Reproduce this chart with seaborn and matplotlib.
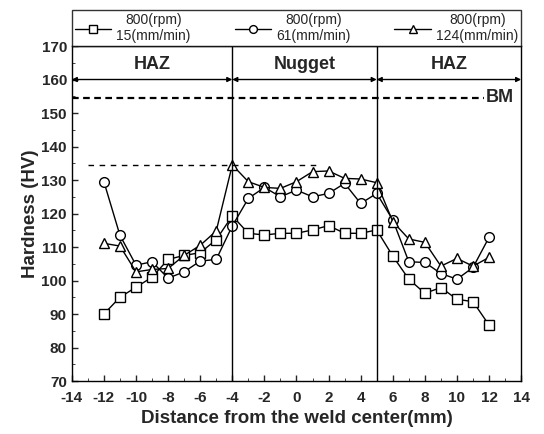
import numpy as np
import pandas as pd
import matplotlib
matplotlib.use('Agg')
import matplotlib.pyplot as plt
import seaborn as sns

# hardness profile across the weld
dist = [-12, -11, -10, -9, -8, -7, -6, -5, -4, -3, -2, -1, 0, 1, 2, 3, 4,
        5, 6, 7, 8, 9, 10, 11, 12]
hv_15 = [90, 95, 98, 101, 106.3, 107.5, 108.3, 112.2, 119.3,
         114.1, 113.6, 114.1, 114.1, 115.1, 116.4, 114.1, 114.1,
         115.1, 107.3, 100.4, 96.2, 97.9, 94.4, 93.7, 86.7]
hv_61 = [129.5, 113.5, 104.6, 105.6, 100.7, 102.6, 105.8, 106.3, 116.3,
         124.5, 127.8, 125.0, 127.0, 125.0, 126.0, 129.0, 123.0,
         126.0, 118.1, 105.6, 105.4, 102.1, 100.4, 103.9, 112.9]
hv_124 = [111.1, 110.3, 102.6, 103.3, 103.6, 107.5, 110.5, 114.8, 134.5,
          129.5, 127.8, 127.5, 129.5, 132.5, 132.7, 130.5, 130.3,
          129.2, 117.6, 112.4, 111.4, 104.3, 106.6, 104.3, 106.9]

labels = ['800(rpm)\n15(mm/min)', '800(rpm)\n61(mm/min)', '800(rpm)\n124(mm/min)']
markers = ['s', 'o', '^']

zone_edges = [-14, -4, 5, 14]
zone_names = ['HAZ', 'Nugget', 'HAZ']
bm_hv = 154.5
peak_hv = 134.5

sns.set_style('ticks')
plt.rcParams['font.family'] = ['Liberation Sans', 'DejaVu Sans']
plt.rcParams['axes.unicode_minus'] = False

fig = plt.figure(figsize=(5.44, 4.34), dpi=100)
ax = fig.add_axes([0.132, 0.122, 0.826, 0.772])

for hv, lab, m in zip([hv_15, hv_61, hv_124], labels, markers):
    sns.lineplot(x=dist, y=hv, ax=ax, color='black', lw=1, marker=m, ms=7,
                 markerfacecolor='white', markeredgecolor='black', mew=1,
                 label=lab)

# zone boundaries
for xv in zone_edges[1:-1]:
    ax.axvline(xv, color='black', lw=1)

# zone arrows and names
for i in range(3):
    ax.annotate('', xy=(zone_edges[i], 160), xytext=(zone_edges[i + 1], 160),
                arrowprops=dict(arrowstyle='<|-|>', color='black', lw=1,
                                mutation_scale=7, shrinkA=0, shrinkB=0))
    ax.text((zone_edges[i] + zone_edges[i + 1]) / 2, 164.5, zone_names[i],
            ha='center', va='center', fontsize=13, fontweight='bold')

# base metal level and peak level
ax.plot([-14, 11.7], [bm_hv, bm_hv], color='black', lw=1.6, ls=(0, (3, 2)))
ax.text(11.8, bm_hv, 'BM', ha='left', va='center', fontsize=13, fontweight='bold')
ax.plot([-13, 1.5], [peak_hv, peak_hv], color='black', lw=1, ls=(0, (4, 4)))

ax.set_xlim(-14, 14)
ax.set_ylim(70, 170)
ax.set_xticks(np.arange(-14, 15, 2))
ax.set_xticks(np.arange(-14, 15, 1), minor=True)
ax.set_yticks(np.arange(70, 171, 10))
ax.set_yticks(np.arange(70, 171, 5), minor=True)
ax.tick_params(direction='in', length=4, width=1, labelsize=11)
ax.tick_params(axis='x', pad=7)
ax.tick_params(which='minor', direction='in', length=2)
for t in ax.get_xticklabels() + ax.get_yticklabels():
    t.set_fontweight('bold')
for s in ax.spines.values():
    s.set_visible(True)
    s.set_linewidth(1)
    s.set_color('black')

ax.set_xlabel('Distance from the weld center(mm)', fontsize=13.5, fontweight='bold')
ax.set_ylabel('Hardness (HV)', fontsize=13.5, fontweight='bold', labelpad=2)

leg = ax.legend(loc='lower left', bbox_to_anchor=(0, 1, 1, 0.13), mode='expand',
                ncol=3, borderaxespad=0, fontsize=10, handlelength=2.6,
                handletextpad=0.4, columnspacing=0.5, frameon=True,
                fancybox=False, edgecolor='black', labelspacing=0.2,
                borderpad=0.2, markerscale=0.8)
leg.get_frame().set_linewidth(1)
for t in leg.get_texts():
    t.set_multialignment('center')

fig.savefig('out.png', dpi=100)
